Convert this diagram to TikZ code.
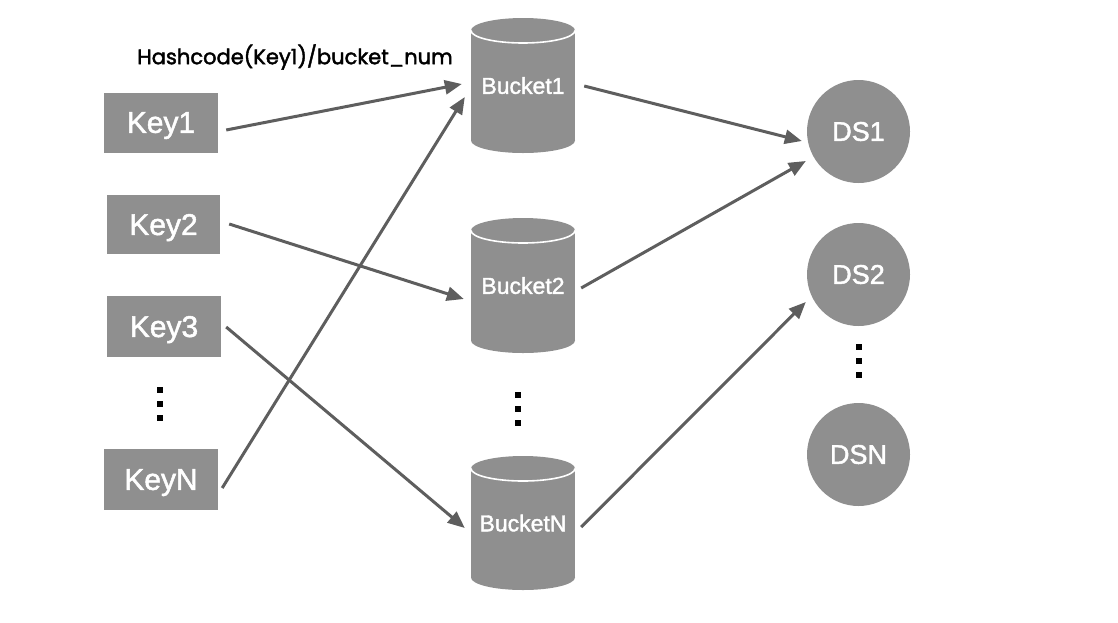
\documentclass[tikz,border=0pt]{standalone}
\usepackage{fontspec}
\setmainfont{Liberation Sans}[FakeBold=1.6]
\newfontfamily\hashfont{Poppins}[FakeBold=2]
\usetikzlibrary{arrows.meta}
\definecolor{boxgray}{HTML}{8F8F8F}
\definecolor{arrowgray}{HTML}{5E5E5E}
\newcommand{\drawbucket}[3]{%
  \fill[boxgray] (#1-52,#2+12.5) rectangle (#1+52,#3-12.5);
  \fill[boxgray] (#1,#2+12.5) ellipse[x radius=52pt,y radius=12.5pt];
  \fill[boxgray] (#1,#3-12.5) ellipse[x radius=52pt,y radius=12.5pt];
  \draw[white,line width=1.6pt] (#1-52,#2+12.5) arc[start angle=180,end angle=360,x radius=52pt,y radius=12.5pt];
}
\newcommand{\vdotsq}[2]{%
  \foreach \k in {0,1,2} {\fill[black] (#1-3,#2-3+\k*14) rectangle +(6,6);}
}
\begin{document}
\begin{tikzpicture}[x=1pt,y=-1pt,
  keybox/.style={fill=boxgray, minimum width=114pt, minimum height=60pt, inner sep=0pt, text=white, text depth=0pt, font=\fontsize{30}{32}\selectfont},
  bucketbox/.style={minimum width=104pt, minimum height=135pt, inner sep=0pt, text=white, text depth=0pt, font=\fontsize{23}{25}\selectfont},
  dsnode/.style={circle, fill=boxgray, minimum size=103pt, inner sep=0pt, text=white, font=\fontsize{27}{29}\selectfont},
  link/.style={draw=arrowgray, line width=3pt, -{Triangle[length=17pt,width=14pt]}},
  hashlabel/.style={font=\hashfont\fontsize{21}{24}\selectfont, text=black, inner sep=0pt}
]
\useasboundingbox (0,0) rectangle (1118,622);

% keys
\node[keybox] (key1) at (161,122.5) {Key1};
\node[keybox, minimum width=113pt, minimum height=59pt] (key2) at (163.5,224.5) {Key2};
\node[keybox, minimum height=61pt] (key3) at (164,326.5) {Key3};
\node[keybox, minimum height=61pt] (keyN) at (161,479.5) {KeyN};
\vdotsq{160}{390}

% buckets
\drawbucket{523}{18}{153}
\drawbucket{523}{218}{353}
\drawbucket{523}{456}{590}
\node[bucketbox] (bucket1) at (523,85.5) {Bucket1};
\node[bucketbox] (bucket2) at (523,285.5) {Bucket2};
\node[bucketbox] (bucketN) at (523,523) {BucketN};
\vdotsq{518}{395}

% data stores
\node[dsnode] (ds1) at (858.5,131.5) {DS1};
\node[dsnode] (ds2) at (858.5,274.5) {DS2};
\node[dsnode] (dsN) at (858.5,454.5) {DSN};
\vdotsq{859}{347}

% label
\node[hashlabel] (hash) at (295,57) {Hashcode(Key1)/bucket\_num};

% connectors
\draw[link] ([shift={(8,7.5)}]key1.east) -- ([shift={(-9,-1.5)}]bucket1.west);
\draw[link] ([shift={(4,8.5)}]keyN.east) -- ([shift={(-6,11.5)}]bucket1.west);
\draw[link] ([shift={(9,-0.5)}]key2.east) -- ([shift={(-7,13.5)}]bucket2.west);
\draw[link] ([shift={(5,0.5)}]key3.east) -- ([shift={(-6,5)}]bucketN.west);
\draw[link] ([shift={(9,0.5)}]bucket1.east) -- ([shift={(-5,9.5)}]ds1.west);
\draw[link] ([shift={(6,2.5)}]bucket2.east) -- ([shift={(-1,29.5)}]ds1.west);
\draw[link] ([shift={(6,4)}]bucketN.east) -- ([shift={(-1,27.5)}]ds2.west);
\end{tikzpicture}
\end{document}
